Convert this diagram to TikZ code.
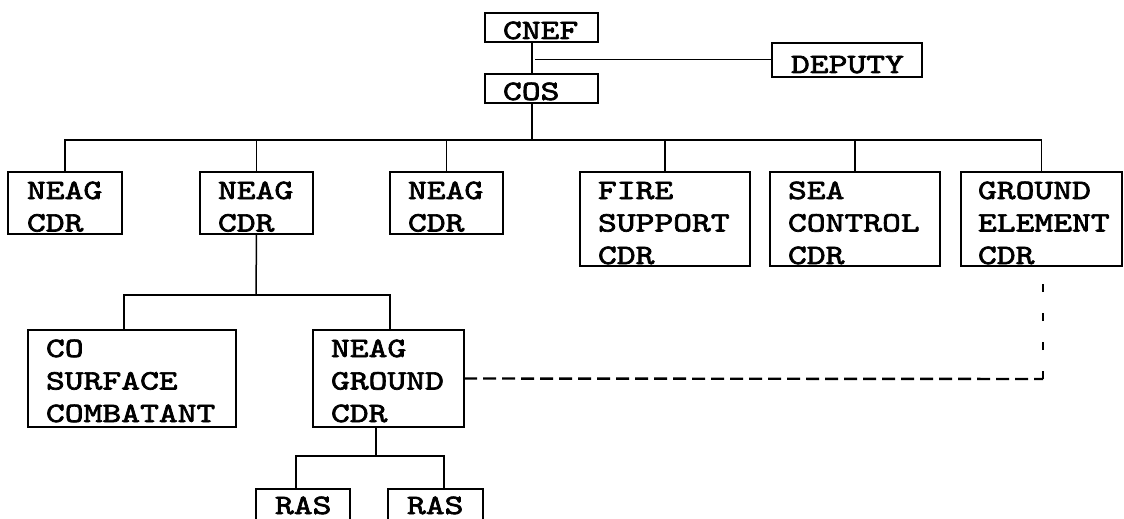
\documentclass[tikz,border=0pt]{standalone}
\usepackage{fontspec}
\newfontfamily\boxfont{lmmono10-regular.otf}[FakeStretch=1.28,FakeBold=2.5]
\begin{document}
\begin{tikzpicture}[x=1pt,y=-1pt,
  box/.style={draw, line width=1.6pt, rectangle, inner sep=0pt, outer sep=0pt, anchor=north west},
  txt/.style={inner sep=0pt, outer sep=0pt, anchor=base west, align=left,
    font=\fontsize{28}{32.5}\boxfont},
  wire/.style={line width=1.5pt},
  thinwire/.style={line width=1pt},
  dashh/.style={line width=2.4pt, dash pattern=on 13pt off 6pt},
  dashv/.style={line width=1.2pt, dash pattern=on 8pt off 21pt}]
\useasboundingbox (0,0) rectangle (1124,519);
\clip (0,0) rectangle (1124,519);
% boxes
\node[box, minimum width=113, minimum height=29] (cnef) at (485,13) {};
\node[box, minimum width=150, minimum height=34] (deputy) at (772,43) {};
\node[box, minimum width=113, minimum height=29] (cos) at (485,74) {};
\node[box, minimum width=114, minimum height=62] (n1) at (8,172) {};
\node[box, minimum width=113, minimum height=62] (n2) at (200,172) {};
\node[box, minimum width=113, minimum height=62] (n3) at (390,172) {};
\node[box, minimum width=170, minimum height=94] (fire) at (580,172) {};
\node[box, minimum width=170, minimum height=94] (sea) at (770,172) {};
\node[box, minimum width=161, minimum height=94] (gnd) at (961,172) {};
\node[box, minimum width=208, minimum height=97] (co) at (28,330) {};
\node[box, minimum width=151, minimum height=97] (ng) at (313,330) {};
\node[box, minimum width=94, minimum height=50] (ras1) at (256,489) {};
\node[box, minimum width=95, minimum height=50] (ras2) at (388,489) {};
% texts (anchored at the baseline of the last line)
\node[txt] (cnefT) at (503,39) {CNEF};
\node[txt] (deputyT) at (791,73) {DEPUTY};
\node[txt] (cosT) at (503,100) {COS};
\node[txt] (n1T) at (27,231.5) {NEAG\\CDR};
\node[txt] (n2T) at (218,231.5) {NEAG\\CDR};
\node[txt] (n3T) at (408,231.5) {NEAG\\CDR};
\node[txt] (fireT) at (598,264) {FIRE\\SUPPORT\\CDR};
\node[txt] (seaT) at (788,264) {SEA\\CONTROL\\CDR};
\node[txt] (gndT) at (978,264) {GROUND\\ELEMENT\\CDR};
\node[txt] (coT) at (46,422) {CO\\SURFACE\\COMBATANT};
\node[txt] (ngT) at (331,422) {NEAG\\GROUND\\CDR};
\node[txt] (ras1T) at (275,514) {RAS};
\node[txt] (ras2T) at (407,514) {RAS};
% coordinates
\coordinate (b1) at (532,140);
\coordinate (dj) at (535,60);
\coordinate (b2) at (256,295);
\coordinate (b2l) at (124,295);
\coordinate (b2r) at (390,295);
\coordinate (b3) at (376,456);
\coordinate (b3l) at (296,456);
\coordinate (b3r) at (444,456);
\coordinate (dc) at (1043,379);
% connectors
\draw[wire] (cnef.south -| b1) -- (cos.north -| b1);
\draw[thinwire] (dj) -- (deputy.west);
\draw[wire] (cos.south -| b1) -- (b1);
\draw[wire] (n1.north) -- (n1.north |- b1) -- (gnd.north |- b1) -- (gnd.north);
\draw[wire] (n2.north) -- (n2.north |- b1);
\draw[wire] (n3.north) -- (n3.north |- b1);
\draw[wire] (fire.north) -- (fire.north |- b1);
\draw[wire] (sea.north) -- (sea.north |- b1);
\draw[wire] (n2.south) -- (b2);
\draw[wire] (co.north -| b2l) -- (b2l) -- (b2r) -- (ng.north -| b2r);
\draw[wire] (ng.south -| b3) -- (b3);
\draw[wire] (ras1.north -| b3l) -- (b3l) -- (b3r) -- (ras2.north -| b3r);
\draw[dashh] (ng.east) -- (dc);
\draw[dashv] (dc) -- (gnd.south -| dc);
\end{tikzpicture}
\end{document}
